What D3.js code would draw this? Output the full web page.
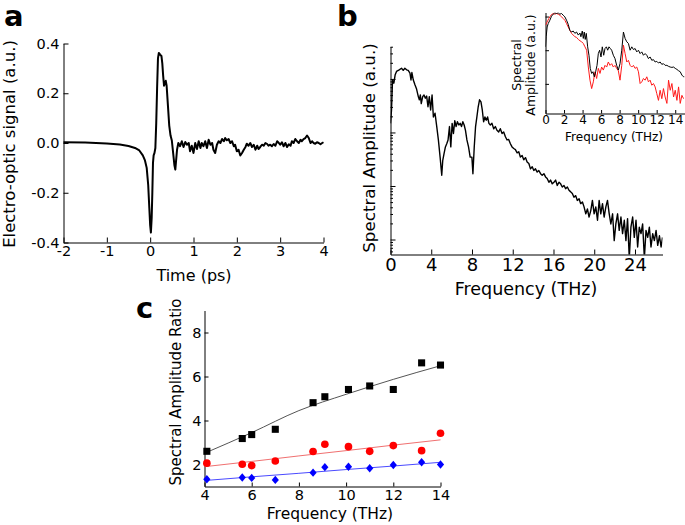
<!DOCTYPE html>
<html><head><meta charset="utf-8">
<script src="https://cdn.jsdelivr.net/npm/d3@7/dist/d3.min.js"></script>
<style>
body{margin:0;background:#fff}
svg{display:block}
text{font-family:"DejaVu Sans",sans-serif;fill:#000}
</style>
</head><body>
<svg id="fig" width="685" height="525"></svg>
<script>
// ---------- Panel a: electro-optic signal vs time ----------
const aTime = [-2.00,-1.50,-1.00,-0.70,-0.50,-0.35,-0.25,-0.17,-0.12,-0.08,-0.045,-0.02,0.00,0.017,0.035,0.05,0.065,0.08,0.10,0.12,0.14,0.16,0.18,0.20,0.23,0.26,0.28,0.30,0.32,0.34,0.36,0.38,0.41,0.44,0.47,0.50,0.53,0.56,
  0.58,0.62,0.65,0.69,0.73,0.77,0.81,0.85,0.89,0.92,0.96,1.00,1.04,1.08,1.12,1.16,1.19,1.23,1.27,1.31,1.35,1.39,1.43,1.46,1.50,1.54,1.58,1.62,1.66,1.70,1.73,1.77,1.81,1.85,1.89,1.93,1.96,2.00,2.04,2.08,2.12,2.16,2.20,2.23,2.27,2.31,2.35,2.39,2.43,2.47,2.50,2.54,2.58,2.62,2.66,2.70,2.73,2.77,2.81,2.85,2.89,2.93,2.97,3.00,3.04,3.08,3.12,3.16,3.20,3.24,3.27,3.31,3.35,3.39,3.43,3.47,3.50,3.54,3.58,3.62,3.66,3.70,3.74,3.77,3.81,3.85,3.89,3.93,3.97,4.00];
const aSignal = [0.003,0.002,-0.002,-0.006,-0.012,-0.02,-0.03,-0.05,-0.07,-0.10,-0.17,-0.26,-0.33,-0.36,-0.30,-0.20,-0.08,-0.05,-0.04,-0.02,0.08,0.22,0.34,0.362,0.355,0.35,0.32,0.27,0.23,0.24,0.25,0.23,0.15,0.07,0.03,0.01,-0.04,-0.09,
  -0.107,-0.027,0,-0.013,0.007,-0.016,0.004,-0.007,0,-0.033,
  -0.011,-0.040,0,-0.024,0.007,-0.020,0,-0.013,0.007,-0.020,
  0.013,-0.007,0,-0.027,-0.040,-0.007,0.007,0,0.016,0.007,
  0.020,0.011,0.016,0,0.007,-0.013,-0.007,-0.033,-0.027,-0.050,
  -0.040,-0.027,-0.016,-0.003,-0.011,0,-0.016,-0.007,-0.027,-0.011,
  -0.024,-0.016,-0.007,-0.011,0,-0.004,-0.011,-0.007,-0.013,-0.004,
  -0.011,0.007,0,-0.007,0.003,-0.013,0,-0.016,-0.005,-0.011,
  0.007,0,0.016,0.007,0,0.013,0.007,0.016,0.020,0.030,
  0.020,0,0.007,0,-0.003,0.003,0,-0.005,0,0.003];
const aXTicks = [-2,-1,0,1,2,3,4];
const aYTicks = [-0.4,-0.2,0.0,0.2,0.4];

// ---------- Panel b: spectrum (log10 of amplitude, a.u.) ----------
const bFreq = [0,0.10,0.20,0.33,0.46,0.59,0.85,1.08,1.25,1.41,1.58,1.74,1.91,2.01,2.10,2.24,2.40,2.56,2.73,2.83,2.93,3.02,3.16,3.29,3.42,3.55,3.68,3.81,3.94,4.08,4.21,4.37,4.54,4.70,4.87,5.03,5.13,5.26,5.39,5.52,5.65,5.79,5.92,6.05,6.18,6.31,6.44,6.57,6.71,6.84,6.97,7.10,7.23,7.36,7.50,7.66,7.82,7.99,8.09,8.22,8.35,8.48,8.61,8.74,8.88,9.01,9.14,9.27,9.40,9.53,9.66,9.80,9.96,10.13,10.29,10.45,10.62,10.78,10.95,11.11,11.28,11.44,11.60,11.77,11.93,12.10,12.26,12.43,12.59,12.75,12.92,13.08,13.25,13.41,13.58,13.74,13.91,14.07,14.23,14.40,14.56,14.73,14.89,15.06,15.22,15.38,15.55,15.71,15.88,16.04,16.21,16.37,16.54,16.70,16.86,17.03,17.19,17.36,17.52,17.69,17.85,18.01,18.18,18.34,18.51,18.67,18.84,19.00,19.17,19.33,19.49,19.66,19.82,19.99,20.15,20.32,20.48,20.64,20.81,20.97,21.14,21.30,21.47,21.63,21.80,21.96,22.12,22.29,22.45,22.62,22.78,22.95,23.11,23.27,23.44,23.60,23.77,23.93,24.10,24.26,24.42,24.59,24.75,24.92,25.08,25.25,25.41,25.57,25.74,25.90,26.07,26.23,26.40,26.56,26.70];
const bLogAmp = [-0.83,-0.58,-0.02,-0.08,0.08,0.14,0.17,0.20,0.16,0.20,0.17,0.16,0.11,-0.02,0.12,-0.02,-0.11,-0.19,-0.33,-0.39,-0.30,-0.46,-0.33,-0.30,-0.36,-0.32,-0.52,-0.33,-0.58,-0.30,-0.71,-0.64,-0.89,-1.14,-1.46,-1.80,-1.52,-1.39,-1.27,-1.21,-1.14,-0.89,-1.27,-0.83,-1.02,-0.78,-0.89,-0.80,-0.86,-0.83,-0.89,-0.80,-0.86,-0.96,-1.14,-1.27,-1.46,-1.46,-1.77,-1.27,-0.89,-0.71,-0.52,-0.39,-0.43,-0.58,-0.80,-0.71,-0.77,-0.71,-0.83,-0.86,-0.83,-0.93,-0.89,-0.96,-0.99,-0.93,-1.02,-0.99,-1.08,-1.14,-1.13,-1.21,-1.27,-1.30,-1.32,-1.38,-1.36,-1.46,-1.43,-1.51,-1.47,-1.55,-1.58,-1.68,-1.64,-1.71,-1.68,-1.74,-1.71,-1.77,-1.80,-1.77,-1.83,-1.86,-1.93,-1.89,-1.96,-1.93,-1.89,-1.99,-1.93,-1.96,-2.02,-1.99,-2.05,-2.02,-2.08,-2.11,-2.14,-2.21,-2.18,-2.27,-2.24,-2.33,-2.30,-2.39,-2.52,-2.43,-2.58,-2.46,-2.27,-2.52,-2.39,-2.64,-2.27,-2.52,-2.33,-2.58,-2.39,-2.27,-2.52,-2.71,-2.52,-3.02,-2.71,-2.52,-2.83,-2.58,-2.89,-2.64,-3.02,-2.61,-3.35,-2.77,-2.58,-2.96,-2.64,-3.14,-2.77,-2.89,-2.71,-3.35,-2.83,-2.96,-2.77,-3.14,-2.89,-3.02,-2.83,-3.11,-2.93,-3.14,-2.96];
const bXTicks = [0,4,8,12,16,20,24];

// inset of panel b (log10 amplitude)
const insBlackFreq = [0,0.07,0.18,0.29,0.47,0.65,0.83,1.01,1.19,1.37,1.55,1.73,1.91,2.09,2.27,2.45,2.63,2.81,2.99,3.17,3.35,3.54,3.72,3.82,3.97,4.08,4.18,4.29,4.40,4.55,4.69,4.83,4.98,5.12,5.27,5.41,5.56,5.70,5.84,5.99,6.13,6.28,6.42,6.57,6.71,6.85,7.00,7.14,7.32,7.50,7.68,7.86,8.04,8.23,8.41,8.59,8.77,8.95,9.13,9.31,9.49,9.67,9.85,10.03,10.21,10.39,10.57,10.75,10.93,11.11,11.29,11.47,11.65,11.83,12.01,12.19,12.37,12.55,12.73,12.91,13.10,13.28,13.46,13.64,13.82,14.00,14.18,14.36,14.54,14.72,14.90,15.00];
const insBlackLog = [0.10,0.40,0.69,0.79,0.89,1.01,1.07,1.11,1.09,1.11,1.07,1.09,1.04,0.99,0.89,0.77,0.59,0.54,0.57,0.50,0.54,0.45,0.51,0.40,0.57,0.35,0.54,0.32,0.50,0.10,-0.15,-0.54,-0.69,-0.64,-0.79,-0.64,-0.45,-0.10,0,-0.20,0.10,-0.15,0.05,0.10,0,0.10,0.05,0,-0.15,-0.25,-0.45,-0.59,-0.40,0,0.54,0.35,0.25,0.20,0,0.10,0.02,0.05,-0.05,0,-0.10,-0.05,-0.15,-0.10,-0.15,-0.25,-0.20,-0.30,-0.28,-0.35,-0.33,-0.38,-0.35,-0.42,-0.40,-0.45,-0.45,-0.48,-0.50,-0.51,-0.50,-0.54,-0.57,-0.61,-0.64,-0.74,-0.79,-0.79];
const insRedFreq = [0,0.18,0.36,0.58,0.83,1.01,1.19,1.37,1.55,1.73,1.91,2.09,2.27,2.45,2.63,2.81,2.99,3.17,3.35,3.54,3.72,3.90,4.08,4.26,4.44,4.62,4.80,4.98,5.16,5.34,5.52,5.70,5.88,6.06,6.24,6.42,6.60,6.78,6.96,7.14,7.32,7.50,7.68,7.86,8.04,8.23,8.41,8.59,8.77,8.95,9.13,9.31,9.49,9.67,9.85,10.03,10.21,10.39,10.57,10.75,10.93,11.11,11.29,11.47,11.65,11.83,12.01,12.19,12.37,12.55,12.73,12.91,13.10,13.28,13.46,13.64,13.82,14.00,14.18,14.36,14.54,14.72,14.90];
const insRedLog = [0.74,0.84,0.94,1.04,1.09,1.07,1.09,1.07,1.04,0.99,0.94,0.89,0.79,0.69,0.59,0.50,0.45,0.40,0.38,0.32,0.28,0.25,0.20,0.10,0,-0.50,-0.89,-1.14,-0.94,-0.64,-0.84,-0.54,-0.69,-0.50,-0.59,-0.45,-0.50,-0.35,-0.45,-0.40,-0.50,-0.45,-0.54,-0.61,-0.89,-0.45,0.15,-0.10,-0.35,-0.30,-0.45,-0.50,-0.45,-0.54,-0.50,-0.64,-0.99,-0.94,-0.84,-0.89,-0.79,-0.94,-0.89,-1.04,-0.99,-1.09,-1.29,-1.49,-1.19,-1.44,-1.14,-1.39,-1.58,-0.89,-1.19,-0.99,-1.39,-1.19,-1.49,-1.09,-1.58,-1.34,-1.44];
const insXTicks = [0,2,4,6,8,10,12,14];

// ---------- Panel c: spectral amplitude ratio ----------
const cFreq  = [4.1,5.6,6.0,7.0,8.6,9.1,10.1,11.0,12.0,13.2,14.0];
const cBlack = [2.60,3.18,3.36,3.60,4.81,5.08,5.41,5.57,5.41,6.62,6.52];
const cRed   = [2.06,2.01,1.95,2.16,2.59,2.92,2.81,2.60,2.86,2.63,3.42];
const cBlue  = [1.33,1.41,1.39,1.30,1.63,1.88,1.90,1.83,1.98,2.10,2.00];
const cFitFreq  = [4,6,8,10,12,14];
const cBlackFit = [2.51,3.45,4.45,5.19,5.87,6.49];
const cRedFit   = [1.90,2.14,2.39,2.63,2.88,3.12];
const cBlueFit  = [1.27,1.44,1.60,1.77,1.93,2.10];
const cXTicks = [4,6,8,10,12,14];
const cYTicks = [2,4,6,8];

// ================= drawing =================
const svg = d3.select('#fig');
const FONT = '"DejaVu Sans", sans-serif';
const defs = svg.append('defs');

function styleAxis(g, size) {
  g.attr('font-family', FONT).attr('font-size', size);
  g.selectAll('path.domain').attr('stroke', '#000').attr('stroke-width', 1);
  g.selectAll('.tick line').attr('stroke', '#000').attr('stroke-width', 1);
  g.selectAll('.tick text').attr('fill', '#000');
}
function label(x, y, txt, size, opts = {}) {
  const t = svg.append('text').attr('x', x).attr('y', y).text(txt)
    .attr('font-size', size).attr('font-family', FONT)
    .attr('text-anchor', opts.anchor || 'middle');
  if (opts.rotate) t.attr('transform', `rotate(-90,${x},${y})`);
  if (opts.bold) t.attr('font-weight', 'bold');
  return t;
}

// ----- Panel a -----
const ax = d3.scaleLinear().domain([-2, 4]).range([63.5, 323.5]);
const ay = d3.scaleLinear().domain([-0.4, 0.4]).range([242.5, 43.5]);
styleAxis(svg.append('g').attr('transform', 'translate(0,242.5)')
  .call(d3.axisBottom(ax).tickValues(aXTicks).tickSizeInner(-5).tickSizeOuter(0).tickPadding(3).tickFormat(d => String(d))), 14.5);
styleAxis(svg.append('g').attr('transform', 'translate(63.5,0)')
  .call(d3.axisLeft(ay).tickValues(aYTicks).tickSizeInner(-5).tickSizeOuter(0).tickPadding(4).tickFormat(d => d.toFixed(1))), 14.5);
const aPts = aTime.map((t, i) => [t, aSignal[i]]);
svg.append('path').datum(aPts)
  .attr('d', d3.line().x(d => ax(d[0])).y(d => ay(d[1])))
  .attr('fill', 'none').attr('stroke', '#000').attr('stroke-width', 2).attr('stroke-linejoin', 'round');
label(194, 281, 'Time (ps)', 16);
label(14.5, 144, 'Electro-optic signal (a.u.)', 16.5, { rotate: true });
label(4, 26, 'a', 29, { anchor: 'start', bold: true });

// ----- Panel b main -----
const bx = d3.scaleLinear().domain([0, 26.7]).range([390.5, 662.5]);
const by = d3.scaleLog().domain([Math.pow(10, -3.28), Math.pow(10, 0.606)]).range([254.5, 46.5]);
const isMajor = d => Math.abs(Math.log10(d) - Math.round(Math.log10(d))) < 1e-6;
const bAll = by.ticks();
styleAxis(svg.append('g').attr('transform', 'translate(0,254.5)')
  .call(d3.axisBottom(bx).tickValues(bXTicks).tickSizeInner(-5).tickSizeOuter(0).tickPadding(4).tickFormat(d => String(d))), 18);
styleAxis(svg.append('g').attr('transform', 'translate(390.5,0)')
  .call(d3.axisLeft(by).tickValues(bAll.filter(isMajor)).tickSizeInner(-5).tickSizeOuter(0).tickFormat('')), 17);
const gMin = svg.append('g').attr('transform', 'translate(390.5,0)')
  .call(d3.axisLeft(by).tickValues(bAll.filter(d => !isMajor(d))).tickSizeInner(-2.5).tickSizeOuter(0).tickFormat(''));
gMin.select('path.domain').remove();
styleAxis(gMin, 17);
defs.append('clipPath').attr('id', 'clipB').append('rect')
  .attr('x', bx(0)).attr('y', by.range()[1]).attr('width', bx(26.7) - bx(0)).attr('height', by.range()[0] - by.range()[1]);
const bPts = bFreq.map((f, i) => [f, Math.pow(10, bLogAmp[i])]);
svg.append('path').datum(bPts).attr('clip-path', 'url(#clipB)')
  .attr('d', d3.line().x(d => bx(d[0])).y(d => by(d[1])))
  .attr('fill', 'none').attr('stroke', '#000').attr('stroke-width', 1.4).attr('stroke-linejoin', 'round');
label(526, 295, 'Frequency (THz)', 17.5);
label(375, 148, 'Spectral Amplitude (a.u.)', 16.7, { rotate: true });
label(337, 26, 'b', 29, { anchor: 'start', bold: true });

// ----- Inset -----
const ix = d3.scaleLinear().domain([0, 15]).range([545.5, 684.5]);
const iy = d3.scaleLog().domain([Math.pow(10, -1.88), Math.pow(10, 1.12)]).range([113.5, 12.5]);
styleAxis(svg.append('g').attr('transform', 'translate(0,113.5)')
  .call(d3.axisBottom(ix).tickValues(insXTicks).tickSizeInner(-3.5).tickSizeOuter(0).tickPadding(2).tickFormat(d => String(d))), 12);
styleAxis(svg.append('g').attr('transform', 'translate(545.5,0)')
  .call(d3.axisLeft(iy).tickValues([0.1, 1, 10]).tickSizeInner(-3.5).tickSizeOuter(0).tickFormat('')), 12);
defs.append('clipPath').attr('id', 'clipI').append('rect')
  .attr('x', ix(0)).attr('y', iy.range()[1]).attr('width', ix(15) - ix(0)).attr('height', iy.range()[0] - iy.range()[1]);
const iLine = d3.line().x(d => ix(d[0])).y(d => iy(d[1]));
svg.append('path').datum(insRedFreq.map((f, i) => [f, Math.pow(10, insRedLog[i])]))
  .attr('clip-path', 'url(#clipI)').attr('d', iLine)
  .attr('fill', 'none').attr('stroke', '#ff1a1a').attr('stroke-width', 1);
svg.append('path').datum(insBlackFreq.map((f, i) => [f, Math.pow(10, insBlackLog[i])]))
  .attr('clip-path', 'url(#clipI)').attr('d', iLine)
  .attr('fill', 'none').attr('stroke', '#000').attr('stroke-width', 1);
label(614, 140.5, 'Frequency (THz)', 12);
label(521, 65, 'Spectral', 12.5, { rotate: true });
label(535, 65, 'Amplitude (a.u.)', 12.5, { rotate: true });

// ----- Panel c -----
const cx = d3.scaleLinear().domain([4, 14]).range([204.5, 440.5]);
const cy = d3.scaleLinear().domain([1, 9]).range([486.5, 310.5]);
styleAxis(svg.append('g').attr('transform', 'translate(0,486.5)')
  .call(d3.axisBottom(cx).tickValues(cXTicks).tickSizeInner(-4).tickSizeOuter(0).tickPadding(3).tickFormat(d => String(d))), 14.5);
styleAxis(svg.append('g').attr('transform', 'translate(204.5,0)')
  .call(d3.axisLeft(cy).tickValues(cYTicks).tickSizeInner(-4).tickSizeOuter(0).tickPadding(3).tickFormat(d => String(d))), 14.5);
const fitLine = d3.line().x(d => cx(d[0])).y(d => cy(d[1])).curve(d3.curveMonotoneX);
[[cBlackFit, '#555555'], [cRedFit, '#f07070'], [cBlueFit, '#4a4aff']].forEach(([vals, col]) => {
  svg.append('path').datum(cFitFreq.map((f, i) => [f, vals[i]]))
    .attr('d', fitLine).attr('fill', 'none').attr('stroke', col).attr('stroke-width', 1);
});
const sq = d3.symbol(d3.symbolSquare, 50)();
const circ = d3.symbol(d3.symbolCircle, 46)();
const diamond = 'M0,-4.2L3.6,0L0,4.2L-3.6,0Z';
[[cBlack, sq, '#000'], [cRed, circ, '#ff0000'], [cBlue, diamond, '#0000ff']].forEach(([vals, shape, col]) => {
  svg.append('g').selectAll('path').data(cFreq.map((f, i) => [f, vals[i]])).join('path')
    .attr('transform', d => `translate(${cx(d[0])},${cy(d[1])})`)
    .attr('d', shape).attr('fill', col);
});
label(330, 519, 'Frequency (THz)', 15.5);
label(181, 392, 'Spectral Amplitude Ratio', 15, { rotate: true });
label(136, 318, 'c', 29, { anchor: 'start', bold: true });
</script>
</body></html>
